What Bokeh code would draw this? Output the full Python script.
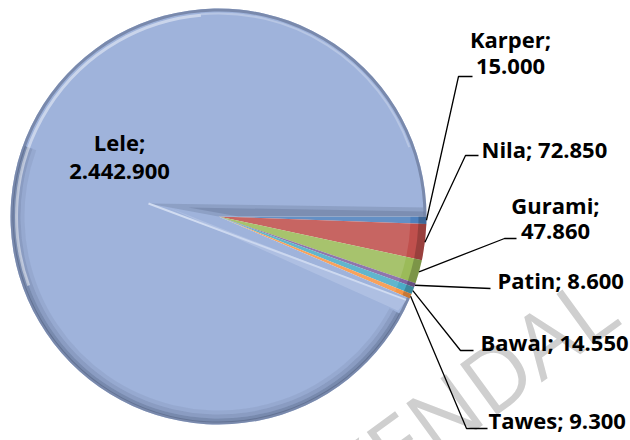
import numpy as np
from bokeh.plotting import figure
from bokeh.models import Range1d
from bokeh.core.properties import value
from bokeh.embed import file_html
from bokeh.resources import INLINE

# ---------------- data ----------------
categories = ["Karper", "Nila", "Gurami", "Patin", "Bawal", "Tawes", "Lele"]
values = [15000, 72850, 47860, 8600, 14550, 9300, 2442900]
value_labels = ["15.000", "72.850", "47.860", "8.600", "14.550", "9.300", "2.442.900"]
colors = ["#4F81BD", "#C0504D", "#9BBB59", "#8064A2", "#4BACC6", "#F79646", "#9FB3DB"]
watermark = "KENDAL"

# ---------------- layout (screen pixels, origin top-left) ----------------
W, H = 630, 440
def sy(y):  # screen y -> data y
    return H - y

CX, CY, R = 218, sy(216), 208
TEXT_SHIFT = 9  # text glyph baseline correction

p = figure(width=W, height=H, output_backend="svg", toolbar_location=None,
           x_range=Range1d(0, W), y_range=Range1d(0, H), min_border=0,
           background_fill_color="white", border_fill_color="white")
p.outline_line_color = None
p.xaxis.visible = False
p.yaxis.visible = False
p.grid.visible = False

vals = np.array(values, dtype=float)
frac = vals / vals.sum()
cum = np.concatenate([[0], np.cumsum(frac)]) * 2 * np.pi
starts = -cum[:-1]
ends = -cum[1:]
mids = (starts + ends) / 2

# watermark (behind everything)
p.text(x=[468], y=[sy(393)], text=[watermark], angle=np.deg2rad(36),
       text_font=value("Open Sans"), text_font_size="88px", text_color="#CFCFCF",
       text_align="center", text_baseline="middle")

# slices
p.wedge(x=CX, y=CY, radius=R, start_angle=starts, end_angle=ends, direction="clock",
        fill_color=colors, line_color=None)

# ---- bevel look on the big slice ----
i_lele = categories.index("Lele")
ls, le = starts[i_lele], ends[i_lele]
p.annular_wedge(x=CX, y=CY, inner_radius=R - 3, outer_radius=R, start_angle=ls,
                end_angle=le, direction="clock", color="#6C7B9C", alpha=0.75, line_color=None)
shadow_from, shadow_to = ls - np.deg2rad(5), np.deg2rad(-200)
for r_out, r_in, a in [(R - 2, R - 6, 0.45), (R - 6, R - 10, 0.25), (R - 10, R - 14, 0.10)]:
    p.annular_wedge(x=CX, y=CY, inner_radius=r_in, outer_radius=r_out,
                    start_angle=shadow_from, end_angle=shadow_to, direction="clock",
                    color="#4A5878", alpha=a, line_color=None)
p.arc(x=CX, y=CY, radius=R - 6, start_angle=np.deg2rad(95), end_angle=np.deg2rad(200),
      line_color="white", line_alpha=0.45, line_width=3)
p.arc(x=CX, y=CY, radius=R - 5, start_angle=np.deg2rad(20), end_angle=np.deg2rad(95),
      line_color="white", line_alpha=0.25, line_width=2)

# edge bands of the big slice
vx, vy = CX - 70, CY + 13
ex = CX + R - 2
p.patch(x=[vx, ex, ex, CX], y=[vy, CY + 9, CY, CY], color="#7E8FB2", alpha=0.55, line_color=None)
p.patch(x=[vx + 40, ex, ex, CX + 20], y=[vy - 4, CY + 5, CY, CY], color="#5E6E90", alpha=0.35,
        line_color=None)
lx1, ly1 = CX + (R - 4) * np.cos(ls), CY + (R - 4) * np.sin(ls)
p.line(x=[vx, lx1], y=[vy, ly1 - 3], line_color="#DDE6F6", line_width=2, line_alpha=0.8)
p.patch(x=[vx + 20, lx1, lx1 - 8], y=[vy - 4, ly1 - 4, ly1 - 14], color="#C6D3EE", alpha=0.4,
        line_color=None)

# bevel on small slices
small = list(range(len(categories) - 1))
p.annular_wedge(x=CX, y=CY, inner_radius=R - 8, outer_radius=R,
                start_angle=starts[small], end_angle=ends[small], direction="clock",
                color="#000000", alpha=0.2, line_color=None)
p.wedge(x=CX, y=CY, radius=R - 16, start_angle=starts[small], end_angle=ends[small],
        direction="clock", color="#FFFFFF", alpha=0.12, line_color=None)

# ---------------- leader lines ----------------
knees = {
    "Karper": [(458, 76), (472, 76)],
    "Nila": [(465, 155), (478, 155)],
    "Gurami": [(504, 238), (516, 238)],
    "Patin": [(490, 288)],
    "Bawal": [(460, 350), (473, 350)],
    "Tawes": [(466, 428), (487, 428)],
}
xs, ys = [], []
for i, c in enumerate(categories[:-1]):
    x0 = CX + R * np.cos(mids[i])
    y0 = CY + R * np.sin(mids[i])
    pts = knees[c]
    xs.append([x0] + [q[0] for q in pts])
    ys.append([y0] + [sy(q[1]) for q in pts])
p.multi_line(xs=xs, ys=ys, line_color="black", line_width=1.3)

# ---------------- labels ----------------
FONT = value("Open Sans")
FS = "22px"
single = {  # left x, baseline y
    "Nila": (481, 157),
    "Patin": (497, 288),
    "Bawal": (480, 350),
    "Tawes": (488, 428),
}
tx, ty, tt = [], [], []
for c, (x, y) in single.items():
    i = categories.index(c)
    tx.append(x); ty.append(sy(y - TEXT_SHIFT)); tt.append(f"{c}; {value_labels[i]}")
p.text(x=tx, y=ty, text=tt, text_font=FONT, text_font_size=FS, text_font_style="bold",
       text_color="black", text_align="left", text_baseline="alphabetic")

double = {  # centre x, baseline of line 1, baseline of line 2
    "Karper": (510, 47, 75),
    "Gurami": (555, 213, 240),
    "Lele": (119, 150, 180),
}
dx, dy, dt = [], [], []
for c, (x, y1, y2) in double.items():
    i = categories.index(c)
    dx += [x, x]; dy += [sy(y1 - TEXT_SHIFT), sy(y2 - TEXT_SHIFT)]; dt += [f"{c};", value_labels[i]]
p.text(x=dx, y=dy, text=dt, text_font=FONT, text_font_size=FS, text_font_style="bold",
       text_color="black", text_align="center", text_baseline="alphabetic")

open("out.html", "w").write(file_html(p, INLINE))
